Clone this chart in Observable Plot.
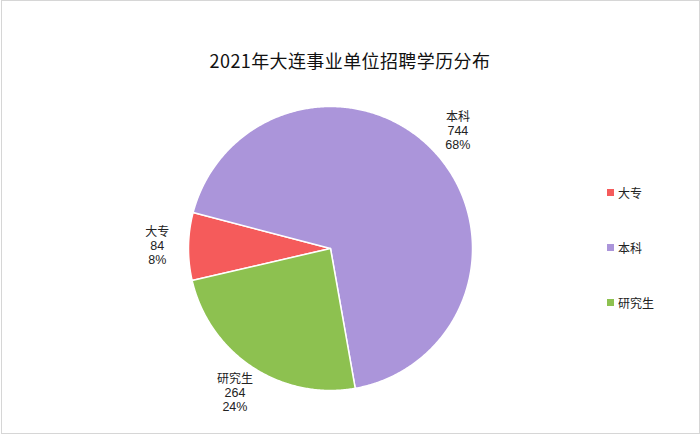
<!DOCTYPE html>
<html>
<head>
<meta charset="utf-8">
<script src="https://cdn.jsdelivr.net/npm/d3@7"></script>
<script src="https://cdn.jsdelivr.net/npm/@observablehq/plot@0.6"></script>
<style>
  html, body { margin: 0; padding: 0; background: #fff; }
  #wrap { position: relative; width: 700px; height: 442px; font-family: "Noto Sans CJK SC", "Noto Sans", sans-serif; color: #222; }
  #frame { position: absolute; left: 1px; top: 0; width: 697px; height: 432px; border: 1px solid #d6d6d6; box-sizing: content-box; pointer-events: none; }
  #title { position: absolute; left: 0; width: 700px; top: 47px; text-align: center; font-size: 18px; letter-spacing: 0.4px; color: #111; line-height: 26px; }
  #chart { position: absolute; left: 0; top: 0; }
  #legend { position: absolute; left: 607px; top: 0; font-size: 12px; }
  .item { position: absolute; white-space: nowrap; display: flex; align-items: center; height: 16px; }
  .sw { width: 7px; height: 7px; margin-right: 4px; }
</style>
</head>
<body>
<div id="wrap">
  <div id="chart"></div>
  <div id="title">2021年大连事业单位招聘学历分布</div>
  <div id="legend"></div>
  <div id="frame"></div>
</div>
<script>
const categories = ["大专", "本科", "研究生"];
const counts = [84, 744, 264];
const colors = ["#f55b5b", "#ab95da", "#8dc150"];

const total = d3.sum(counts);
const startDeg = 257;
const a0 = startDeg * Math.PI / 180;
const arcs = d3.pie().sort(null).startAngle(a0).endAngle(a0 + 2 * Math.PI)(counts);

// slice polygons in unit-circle coordinates (angle clockwise from 12 o'clock)
const poly = [];
arcs.forEach((a, i) => {
  const name = categories[i];
  poly.push({name, x: 0, y: 0});
  const n = Math.max(4, Math.ceil((a.endAngle - a.startAngle) / (Math.PI / 360)));
  for (let k = 0; k <= n; k++) {
    const t = a.startAngle + (a.endAngle - a.startAngle) * k / n;
    poly.push({name, x: Math.sin(t), y: Math.cos(t)});
  }
});

const labels = arcs.map((a, i) => {
  const m = (a.startAngle + a.endAngle) / 2;
  const r = 1.22;
  return {
    x: r * Math.sin(m), y: r * Math.cos(m),
    name: categories[i],
    value: String(counts[i]),
    pct: `${Math.round(counts[i] / total * 100)}%`
  };
});

const cx = 330, cy = 248, R = 142;
const lf = "'Liberation Sans', 'Noto Sans CJK SC', sans-serif";
const plot = Plot.plot({
  width: 700,
  height: 442,
  margin: 0,
  x: {domain: [-1, 1], range: [cx - R, cx + R], axis: null},
  y: {domain: [-1, 1], range: [cy + R, cy - R], axis: null},
  color: {domain: categories, range: colors},
  style: {background: "transparent", fontFamily: "'Noto Sans CJK SC', sans-serif"},
  marks: [
    Plot.line(poly, {x: "x", y: "y", z: "name", fill: "name", stroke: "#fff", strokeWidth: 1.5, curve: "linear-closed", strokeLinejoin: "round"}),
    Plot.text(labels, {x: "x", y: "y", text: "name", dy: -14, fontSize: 12, fontFamily: "'Noto Sans CJK SC', sans-serif", fill: "#222", textAnchor: "middle"}),
    Plot.text(labels, {x: "x", y: "y", text: "value", dy: 0, fontSize: 12.5, fontFamily: lf, fill: "#222", textAnchor: "middle"}),
    Plot.text(labels, {x: "x", y: "y", text: "pct", dy: 14, fontSize: 12.5, fontFamily: lf, fill: "#222", textAnchor: "middle"})
  ]
});
document.getElementById("chart").appendChild(plot);

const legend = document.getElementById("legend");
categories.forEach((c, i) => {
  const it = document.createElement("div");
  it.className = "item";
  it.style.top = (184 + i * 55) + "px";
  it.innerHTML = `<span class="sw" style="background:${colors[i]}"></span><span>${c}</span>`;
  legend.appendChild(it);
});
</script>
</body>
</html>
